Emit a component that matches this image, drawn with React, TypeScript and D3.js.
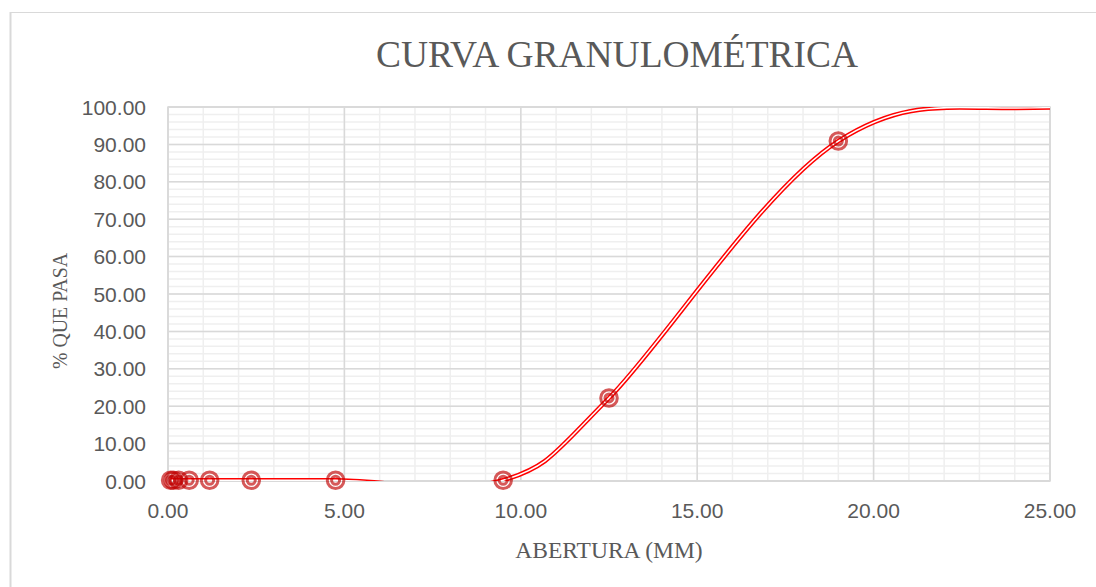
import React from "react";
import * as d3 from "d3";

const aberturas = [0.075, 0.15, 0.3, 0.6, 1.18, 2.36, 4.75, 9.5, 12.5, 19.0, 25.4, 37.5];
const pasa = [0.2, 0.2, 0.2, 0.2, 0.2, 0.2, 0.2, 0.2, 22.2, 90.9, 100, 100];
const xTicks = [0, 5, 10, 15, 20, 25];
const yTicks = [0, 10, 20, 30, 40, 50, 60, 70, 80, 90, 100];
const xMinor = d3.range(0, 26, 1);
const yMinor = d3.range(0, 101, 2);

const W = 1096;
const H = 587;
const L = 168, R = 1050, T = 107, B = 481;

export default function App() {
  const x = d3.scaleLinear().domain([0, 25]).range([L, R]);
  const y = d3.scaleLinear().domain([0, 100]).range([B, T]);
  const pts: [number, number][] = aberturas.map((a, i) => [x(a), y(pasa[i])]);
  const line = d3.line().curve(d3.curveCardinal.tension(0))(pts) || "";
  const fmt = d3.format(".2f");
  const grey = "#595959";
  return (
    <svg width={W} height={H} style={{ position: "absolute", left: 0, top: 0, background: "#fff" }}>
      <defs>
        <clipPath id="plotclip">
          <rect x={L} y={T} width={R - L} height={B - T} />
        </clipPath>
      </defs>
      <rect x={0} y={0} width={W} height={H} fill="#fff" />
      <line x1={10.5} y1={12} x2={10.5} y2={H} stroke="#d9d9d9" strokeWidth={2} />
      <line x1={10} y1={12.5} x2={W} y2={12.5} stroke="#d9d9d9" strokeWidth={1} />
      {/* minor grid */}
      {xMinor.map((v) => (
        <line key={"xm" + v} x1={x(v)} x2={x(v)} y1={T} y2={B} stroke="#efefef" strokeWidth={1.5} />
      ))}
      {yMinor.map((v) => (
        <line key={"ym" + v} x1={L} x2={R} y1={y(v)} y2={y(v)} stroke="#efefef" strokeWidth={1.5} />
      ))}
      {/* major grid */}
      {xTicks.map((v) => (
        <line key={"xM" + v} x1={x(v)} x2={x(v)} y1={T} y2={B} stroke="#d9d9d9" strokeWidth={1.5} />
      ))}
      {yTicks.map((v) => (
        <line key={"yM" + v} x1={L} x2={R} y1={y(v)} y2={y(v)} stroke="#d9d9d9" strokeWidth={1.5} />
      ))}
      <rect x={L} y={T} width={R - L} height={B - T} fill="none" stroke="#d9d9d9" strokeWidth={1.5} />
      <line x1={L} x2={R} y1={B} y2={B} stroke="#d9d9d9" strokeWidth={2} />
      {/* series line */}
      <g clipPath="url(#plotclip)">
        <path d={line} fill="none" stroke="#ff0000" strokeWidth={4.5} />
        <path d={line} fill="none" stroke="#ffffff" strokeWidth={1.5} />
      </g>
      {/* markers */}
      {aberturas.map((a, i) =>
        a <= 25 ? (
          <g key={"m" + i} stroke="rgb(192,0,0)" strokeOpacity={0.65} fill="none" strokeWidth={3}>
            <circle cx={x(a)} cy={y(pasa[i])} r={8.3} />
            <circle cx={x(a)} cy={y(pasa[i])} r={4} />
          </g>
        ) : null
      )}
      {/* tick labels */}
      {yTicks.map((v) => (
        <text key={"yl" + v} x={146} y={y(v) + 7.5} textAnchor="end" fontFamily="Liberation Sans, Arial, sans-serif" fontSize={21} fill={grey}>
          {fmt(v)}
        </text>
      ))}
      {xTicks.map((v) => (
        <text key={"xl" + v} x={x(v)} y={518} textAnchor="middle" fontFamily="Liberation Sans, Arial, sans-serif" fontSize={21} fill={grey}>
          {fmt(v)}
        </text>
      ))}
      {/* titles */}
      <text x={617} y={66.5} textAnchor="middle" fontFamily="Liberation Serif, Times New Roman, serif" fontSize={38} fill={grey} textLength={482} lengthAdjust="spacingAndGlyphs">
        CURVA GRANULOMÉTRICA
      </text>
      <text x={609} y={558} textAnchor="middle" fontFamily="Liberation Serif, Times New Roman, serif" fontSize={23.5} fill={grey}>
        ABERTURA (MM)
      </text>
      <text transform="translate(67,311) rotate(-90)" textAnchor="middle" fontFamily="Liberation Serif, Times New Roman, serif" fontSize={22} fill={grey} textLength={116} lengthAdjust="spacingAndGlyphs">
        % QUE PASA
      </text>
    </svg>
  );
}
